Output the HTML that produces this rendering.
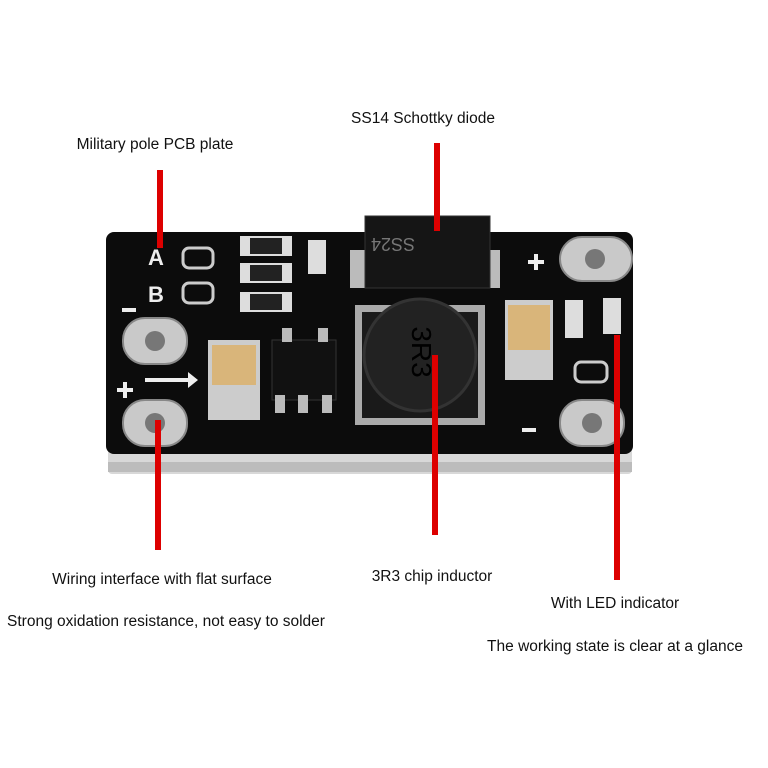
<!DOCTYPE html>
<html><head><meta charset="utf-8"><style>
body{margin:0;width:768px;height:768px;background:#fff;overflow:hidden;position:relative;font-family:"Liberation Sans",sans-serif}
.t{position:absolute;font-size:15.5px;color:#111;white-space:nowrap;transform:translateX(-50%)}
svg{position:absolute;left:0;top:0}
</style></head><body>
<svg width="768" height="768">
<rect x="108" y="446" width="524" height="28" rx="4" fill="#d8d8d8"/>
<rect x="108" y="462" width="524" height="10" fill="#bcbcbc"/>
<rect x="106" y="232" width="527" height="222" rx="8" fill="#0c0c0c"/>
<g fill="#c9c9c9" stroke="#888" stroke-width="2">
<rect x="123" y="318" width="64" height="46" rx="22"/>
<rect x="123" y="400" width="64" height="46" rx="22"/>
<rect x="560" y="237" width="72" height="44" rx="22"/>
<rect x="560" y="400" width="64" height="46" rx="22"/>
</g>
<g fill="#777"><circle cx="155" cy="341" r="10"/><circle cx="155" cy="423" r="10"/><circle cx="595" cy="259" r="10"/><circle cx="592" cy="423" r="10"/></g>
<rect x="350" y="250" width="150" height="38" fill="#bbb"/>
<rect x="365" y="216" width="125" height="72" fill="#151515" stroke="#333"/>
<text x="415" y="252" fill="#777" font-size="18" transform="rotate(180 415 245)">SS24</text>
<rect x="355" y="305" width="130" height="120" fill="#aaa"/>
<rect x="362" y="312" width="116" height="106" fill="#1a1a1a"/>
<circle cx="420" cy="355" r="56" fill="#222" stroke="#333" stroke-width="3"/>
<text x="420" y="360" fill="#000" font-size="28" text-anchor="middle" transform="rotate(90 420 352)">3R3</text>
<rect x="208" y="340" width="52" height="80" fill="#ccc"/>
<rect x="212" y="345" width="44" height="40" fill="#d9b57a"/>
<rect x="505" y="300" width="48" height="80" fill="#ccc"/>
<rect x="508" y="305" width="42" height="45" fill="#d9b57a"/>
<rect x="272" y="340" width="64" height="60" fill="#111" stroke="#333"/>
<g fill="#bbb"><rect x="275" y="395" width="10" height="18"/><rect x="298" y="395" width="10" height="18"/><rect x="322" y="395" width="10" height="18"/><rect x="282" y="328" width="10" height="14"/><rect x="318" y="328" width="10" height="14"/></g>
<g fill="#ddd"><rect x="240" y="236" width="52" height="20"/><rect x="240" y="263" width="52" height="20"/><rect x="240" y="292" width="52" height="20"/><rect x="308" y="240" width="18" height="34"/><rect x="565" y="300" width="18" height="38"/><rect x="603" y="298" width="18" height="36"/></g>
<g fill="#222"><rect x="250" y="238" width="32" height="16"/><rect x="250" y="265" width="32" height="16"/><rect x="250" y="294" width="32" height="16"/></g>
<g fill="none" stroke="#ccc" stroke-width="3"><rect x="183" y="248" width="30" height="20" rx="6"/><rect x="183" y="283" width="30" height="20" rx="6"/><rect x="575" y="362" width="32" height="20" rx="6"/></g>
<g fill="#eee" font-size="22" font-weight="bold"><text x="148" y="265">A</text><text x="148" y="302">B</text></g>
<g stroke="#eee" stroke-width="4"><line x1="122" y1="310" x2="136" y2="310"/><line x1="117" y1="390" x2="133" y2="390"/><line x1="125" y1="382" x2="125" y2="398"/><line x1="145" y1="380" x2="188" y2="380"/><line x1="528" y1="262" x2="544" y2="262"/><line x1="536" y1="254" x2="536" y2="270"/><line x1="522" y1="430" x2="536" y2="430"/></g>
<polygon points="188,372 198,380 188,388" fill="#eee"/>
<g fill="#d00"><rect x="157" y="170" width="6" height="78"/><rect x="434" y="143" width="6" height="88"/><rect x="155" y="420" width="6" height="130"/><rect x="432" y="355" width="6" height="180"/><rect x="614" y="335" width="6" height="245"/></g>
</svg>
<div class="t" style="left:155px;top:136px">Military pole PCB plate</div>
<div class="t" style="left:423px;top:110px">SS14 Schottky diode</div>
<div class="t" style="left:162px;top:571px">Wiring interface with flat surface</div>
<div class="t" style="left:166px;top:613px">Strong oxidation resistance, not easy to solder</div>
<div class="t" style="left:432px;top:568px">3R3 chip inductor</div>
<div class="t" style="left:615px;top:595px">With LED indicator</div>
<div class="t" style="left:615px;top:638px">The working state is clear at a glance</div>
</body></html>
